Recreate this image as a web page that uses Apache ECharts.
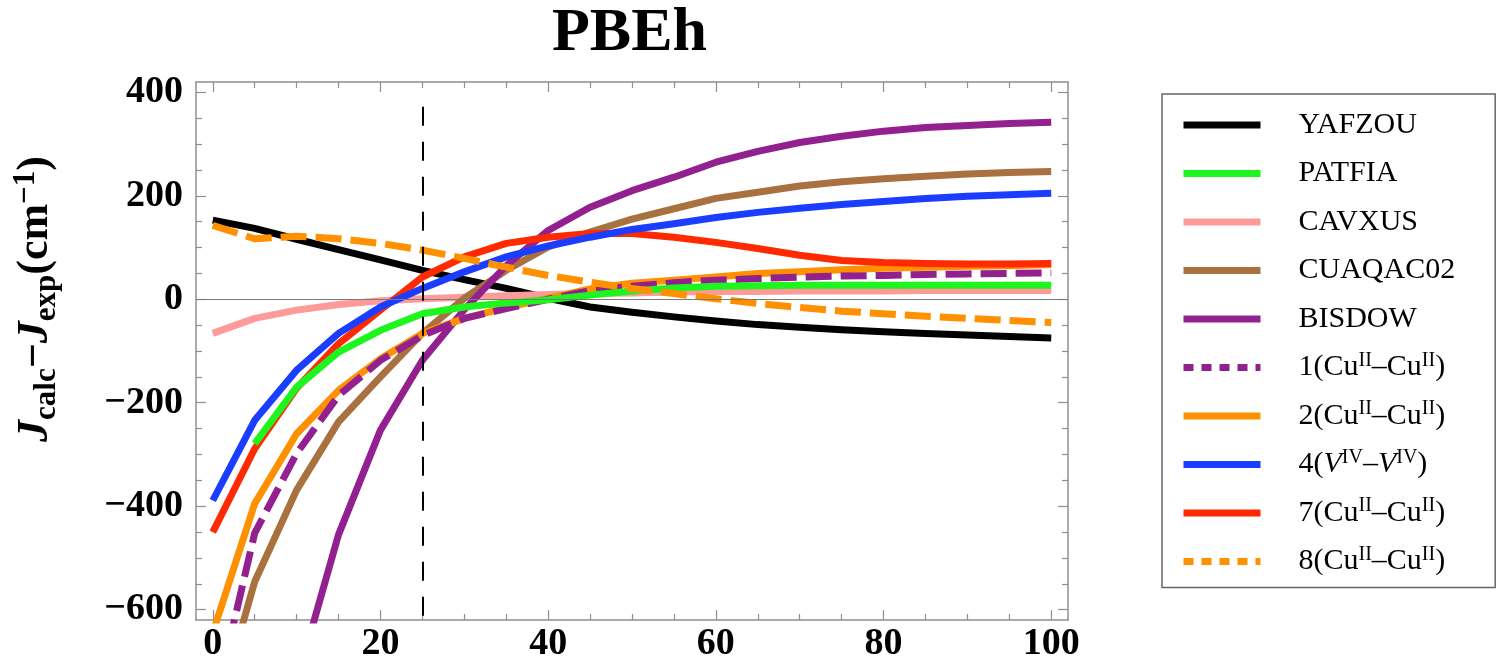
<!DOCTYPE html>
<html>
<head>
<meta charset="utf-8">
<title>PBEh</title>
<script src="https://cdn.jsdelivr.net/npm/echarts@6/dist/echarts.min.js"></script>
<style>
    html, body { margin: 0; padding: 0; background: #fff; }
    #chart { width: 1499px; height: 664px; }
</style>
</head>
<body>
<div id="chart"></div>
<script>
// x 采样点
const xs = [0, 5, 10, 15, 20, 25, 30, 35, 40, 45, 50, 55, 60, 65, 70, 75, 80, 85, 90, 95, 100];

// 各曲线 Jcalc - Jexp (cm-1)
const yafzou = [153, 137, 116, 96, 76, 56, 38, 21, 2, -15, -25, -34, -42, -49, -54, -59, -63, -66, -69, -72, -75];
const patfia = [null, -279, -170, -102, -60, -28, -15, -7, -1, 8, 16, 22, 25, 26, 27, 27, 27, 27, 27, 27, 27];
const cavxus = [-66, -37, -21, -10, -3, 1, 4, 7, 9, 11, 12, 14, 15, 15, 16, 16, 16, 17, 17, 17, 17];
const cuaqac02 = [-830, -546, -369, -237, -150, -66, 2, 56, 101, 130, 155, 175, 195, 207, 219, 227, 233, 238, 242, 245, 247];
const bisdow = [null, null, -740, -455, -253, -118, -20, 65, 133, 178, 210, 236, 265, 286, 303, 315, 325, 332, 336, 340, 342];
const cu1 = [-800, -452, -298, -186, -118, -70, -37, -18, 0, 17, 25, 32, 37, 40, 43, 45, 46, 48, 49, 50, 51];
const cu2 = [-645, -395, -260, -176, -115, -66, -37, -16, 2, 20, 31, 37, 43, 50, 53, 57, 60, 62, 64, 65, 67];
const v4 = [-389, -234, -137, -66, -15, 21, 53, 82, 103, 120, 135, 146, 158, 168, 176, 183, 189, 195, 199, 202, 205];
const cu7 = [-450, -289, -172, -86, -21, 43, 82, 108, 120, 127, 127, 120, 110, 98, 85, 75, 71, 69, 68, 68, 69];
const cu8 = [143, 117, 122, 117, 108, 95, 79, 62, 46, 33, 21, 11, 1, -8, -16, -23, -28, -33, -37, -41, -45];

// 图例名称(顺序同原图)
const names = ['YAFZOU', 'PATFIA', 'CAVXUS', 'CUAQAC02', 'BISDOW',
    '1(CuII–CuII)', '2(CuII–CuII)', '4(VIV–VIV)', '7(CuII–CuII)', '8(CuII–CuII)'];

// 刻度
const xMajor = [0, 20, 40, 60, 80, 100];
const xMinor = [5, 10, 15, 25, 30, 35, 45, 50, 55, 65, 70, 75, 85, 90, 95];
const yMajor = [-600, -400, -200, 0, 200, 400];
const yMinor = [-550, -500, -450, -350, -300, -250, -150, -100, -50, 50, 100, 150, 250, 300, 350];

const serif = "'Liberation Serif', 'Times New Roman', serif";
const frameColor = '#8f8f8f';

// 图例上标
const legendLabels = {
    '1(CuII–CuII)': '1(Cu{sup|II}–Cu{sup|II})',
    '2(CuII–CuII)': '2(Cu{sup|II}–Cu{sup|II})',
    '4(VIV–VIV)': '4({i|V}{sup|IV}–{i|V}{sup|IV})',
    '7(CuII–CuII)': '7(Cu{sup|II}–Cu{sup|II})',
    '8(CuII–CuII)': '8(Cu{sup|II}–Cu{sup|II})'
};

function lineSeries(name, ys, color, dashed) {
    return {
        type: 'line',
        name: name,
        data: xs.map((x, i) => [x, ys[i]]),
        symbol: 'none',
        showSymbol: false,
        clip: true,
        animation: false,
        lineStyle: { color: color, width: 7, type: dashed ? [26, 9] : 'solid', join: 'round' },
        itemStyle: { color: color },
        emphasis: { disabled: true }
    };
}

// 边框坐标轴: 主刻度/次刻度各一根
function frameAxis(dim, position, ticks, len, withLine, withLabel) {
    const isX = dim === 'x';
    return {
        type: 'value',
        position: position,
        min: isX ? -2 : -620,
        max: isX ? 102 : 420,
        axisLine: { show: withLine, onZero: false, lineStyle: { color: frameColor, width: 1.5 } },
        axisTick: { show: true, inside: true, length: len, customValues: ticks, lineStyle: { color: frameColor, width: 1.2 } },
        axisLabel: {
            show: withLabel,
            customValues: ticks,
            margin: isX ? 5 : 13,
            color: '#000',
            fontFamily: serif,
            fontWeight: 'bold',
            fontSize: 38,
            formatter: v => v < 0 ? '−' + Math.abs(v) : String(v)
        },
        splitLine: { show: false }
    };
}

const xAxes = [
    frameAxis('x', 'bottom', xMajor, 10, true, true),
    frameAxis('x', 'bottom', xMinor, 6, false, false),
    frameAxis('x', 'top', xMajor, 10, true, false),
    frameAxis('x', 'top', xMinor, 6, false, false)
];
const yAxes = [
    frameAxis('y', 'left', yMajor, 10, true, true),
    frameAxis('y', 'left', yMinor, 6, false, false),
    frameAxis('y', 'right', yMajor, 10, true, false),
    frameAxis('y', 'right', yMinor, 6, false, false)
];
yAxes[0].name = '{j|J}{sub|calc}{t|−}{j|J}{sub|exp}{t|(cm}{sup|−1}{t|)}';
yAxes[0].nameLocation = 'middle';
yAxes[0].nameRotate = 90;
yAxes[0].nameGap = 134;
yAxes[0].nameTextStyle = {
    padding: [0, 0, 0, 104],
    rich: {
        j: { fontFamily: serif, fontWeight: 'bold', fontStyle: 'italic', fontSize: 44, lineHeight: 52, color: '#000' },
        t: { fontFamily: serif, fontWeight: 'bold', fontSize: 44, lineHeight: 52, color: '#000' },
        sub: { fontFamily: serif, fontWeight: 'bold', fontSize: 31, lineHeight: 31, verticalAlign: 'bottom', color: '#000' },
        sup: { fontFamily: serif, fontWeight: 'bold', fontSize: 31, lineHeight: 31, verticalAlign: 'top', color: '#000' }
    }
};

// 零线 + x=25 竖虚线
const zeroLine = {
    type: 'line', name: 'zero', data: [], silent: true,
    markLine: {
        silent: true, symbol: 'none', animation: false, label: { show: false },
        lineStyle: { color: '#7a7a7a', width: 1, type: 'solid' },
        data: [{ yAxis: 0 }]
    }
};
const refLine = {
    type: 'line', name: 'ref', data: [], silent: true, z: 5,
    markLine: {
        silent: true, symbol: 'none', animation: false, label: { show: false },
        lineStyle: { color: '#000', width: 2, type: [19, 16] },
        data: [[{ coord: [25, 372] }, { coord: [25, -620] }]]
    }
};

const series = [
    zeroLine,
    lineSeries(names[0], yafzou, '#000000', false),
    lineSeries(names[2], cavxus, '#ff9a9a', false),
    lineSeries(names[3], cuaqac02, '#a8713f', false),
    lineSeries(names[4], bisdow, '#93208f', false),
    lineSeries(names[6], cu2, '#ff9100', false),
    lineSeries(names[5], cu1, '#93208f', true),
    lineSeries(names[8], cu7, '#ff2a00', false),
    lineSeries(names[1], patfia, '#1ef51e', false),
    lineSeries(names[7], v4, '#1a3dff', false),
    lineSeries(names[9], cu8, '#ff9100', true),
    refLine
];

const option = {
    backgroundColor: '#fff',
    animation: false,
    title: {
        text: 'PBEh',
        left: 552,
        top: 3,
        padding: 0,
        textStyle: { fontFamily: serif, fontWeight: 'bold', fontSize: 62, color: '#000' }
    },
    grid: { left: 196, right: 431, top: 82, bottom: 44, containLabel: false },
    xAxis: xAxes,
    yAxis: yAxes,
    legend: {
        orient: 'vertical',
        left: 1162,
        top: 94,
        padding: [14, 40, 9, 18],
        borderColor: '#666',
        borderWidth: 1.5,
        itemWidth: 77,
        itemHeight: 34,
        itemGap: 14.5,
        selectedMode: false,
        itemStyle: { opacity: 0 },
        lineStyle: { width: 7 },
        data: names.map(n => {
            const item = { name: n };
            if (n.startsWith('1(') || n.startsWith('8(')) {
                item.lineStyle = { type: [10, 8], width: 7 };
            }
            return item;
        }),
        formatter: n => legendLabels[n] || n,
        textStyle: {
            fontFamily: serif,
            fontSize: 30,
            lineHeight: 34,
            color: '#000',
            padding: [0, 0, 0, 33],
            rich: {
                sup: { fontFamily: serif, fontSize: 20, lineHeight: 20, verticalAlign: 'top', color: '#000' },
                i: { fontFamily: serif, fontStyle: 'italic', fontSize: 30, lineHeight: 34, color: '#000' }
            }
        }
    },
    series: series
};

const chart = echarts.init(document.getElementById('chart'), null, { renderer: 'canvas' });
chart.setOption(option);
window.addEventListener('resize', function () {
    chart.resize();
});
</script>
</body>
</html>
